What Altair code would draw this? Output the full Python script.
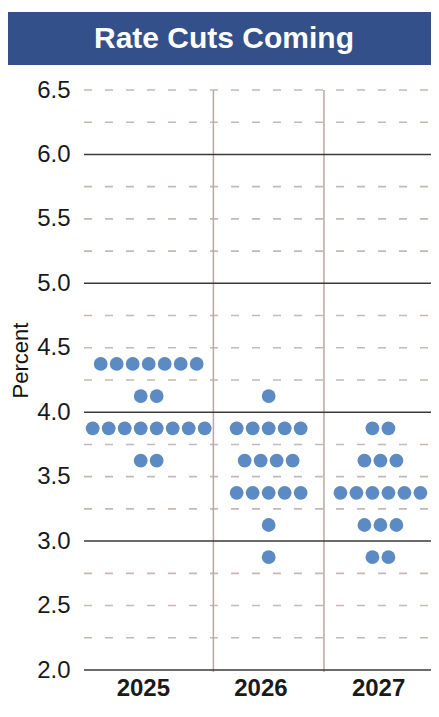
import json
import altair as alt
import pandas as pd

# ---------------- data ----------------
title = "Rate Cuts Coming"
years = ["2025", "2026", "2027"]

rates_2025 = [4.375, 4.125, 3.875, 3.625]
counts_2025 = [7, 2, 8, 2]
rates_2026 = [4.125, 3.875, 3.625, 3.375, 3.125, 2.875]
counts_2026 = [1, 5, 4, 5, 1, 1]
rates_2027 = [3.875, 3.625, 3.375, 3.125, 2.875]
counts_2027 = [2, 3, 6, 3, 2]

y_ticks = [2.0, 2.5, 3.0, 3.5, 4.0, 4.5, 5.0, 5.5, 6.0, 6.5]
major_grid = [2.0, 3.0, 4.0, 5.0, 6.0]
minor_grid = [2.25, 2.5, 2.75, 3.25, 3.5, 3.75, 4.25, 4.5, 4.75,
              5.25, 5.5, 5.75, 6.25, 6.5]
dividers = [1.1, 2.04]          # column separators on the x scale
label_pos = [0.5, 1.5, 2.5]

# ---------------- layout ----------------
W, H = 347, 580
X_MAX = 2.95
STEP = 16 / (W / X_MAX)         # dot spacing (16 px) in x-scale units
edges = [0.0] + dividers + [3.0]
centers = [(edges[i] + edges[i + 1]) / 2 for i in range(3)]

rows = []
for yi, (rates, counts) in enumerate([(rates_2025, counts_2025),
                                      (rates_2026, counts_2026),
                                      (rates_2027, counts_2027)]):
    for r, n in zip(rates, counts):
        for i in range(n):
            rows.append({"year": years[yi], "rate": r,
                         "x": centers[yi] + (i - (n - 1) / 2) * STEP})
dots = pd.DataFrame(rows)

xscale = alt.Scale(domain=[0, X_MAX], nice=False, zero=False)
yscale = alt.Scale(domain=[2.0, 6.5], nice=False, zero=False)

label_expr = json.dumps(years) + "[floor(datum.value)]"

x_axis = alt.Axis(values=label_pos, labelExpr=label_expr, title=None,
                  grid=False, ticks=False, domain=False,
                  labelFontSize=24, labelFontWeight="bold",
                  labelColor="#1a1a1a", labelPadding=6)
y_axis = alt.Axis(values=y_ticks, format=".1f", title="Percent",
                  grid=False, ticks=False, domain=False,
                  labelFontSize=24, labelColor="#1a1a1a", labelPadding=14,
                  titleFontSize=22, titleFontWeight="normal",
                  titleColor="#111111", titleAngle=270,
                  titleBaseline="alphabetic", titleAlign="center",
                  titleX=-57, titleY=270)

minor = alt.Chart(pd.DataFrame({"v": minor_grid})).mark_rule(
    color="#c6b8b3", strokeWidth=1.6, strokeDash=[8, 13]
).encode(
    y=alt.Y("v:Q", scale=yscale, axis=y_axis),
    x=alt.value(0), x2=alt.value(W)
)

divs = alt.Chart(pd.DataFrame({"d": dividers})).mark_rule(
    color="#b9a7a1", strokeWidth=1.5
).encode(
    x=alt.X("d:Q", scale=xscale, axis=x_axis),
    y=alt.value(0), y2=alt.value(H + 2)
)

major = alt.Chart(pd.DataFrame({"v": major_grid})).mark_rule(
    color="#3a3a3a", strokeWidth=1.5
).encode(
    y=alt.Y("v:Q", scale=yscale),
    x=alt.value(0), x2=alt.value(W)
)

points = alt.Chart(dots).mark_circle(
    size=190, opacity=1, color="#5b8ac5"
).encode(
    x=alt.X("x:Q", scale=xscale),
    y=alt.Y("rate:Q", scale=yscale)
)

tdf = pd.DataFrame({"t": [title]})
bar = alt.Chart(tdf).mark_rect(color="#34508a").encode(
    x=alt.value(-76), x2=alt.value(W), y=alt.value(-78), y2=alt.value(-25)
)
ttext = alt.Chart(tdf).mark_text(
    color="white", fontSize=30, fontWeight="bold", align="center",
    baseline="middle"
).encode(text="t:N", x=alt.value(140), y=alt.value(-51))

chart = alt.layer(minor, divs, major, points, bar, ttext).properties(
    width=W, height=H,
    autosize=alt.AutoSizeParams(type="none"),
    padding={"left": 76, "top": 82, "right": 0, "bottom": 33}
).configure(font="Liberation Sans").configure_view(strokeWidth=0)

chart.save("out.html", embed_options={"renderer": "svg", "actions": False})
